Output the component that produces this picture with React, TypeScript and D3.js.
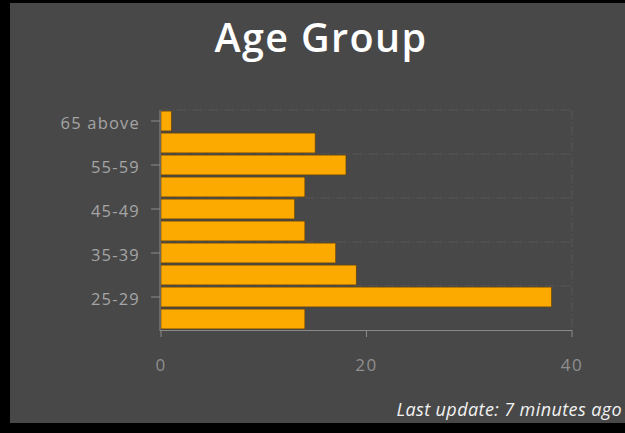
import React from "react";
import * as d3 from "d3";

const categories = ["20-24", "25-29", "30-34", "35-39", "40-44", "45-49", "50-54", "55-59", "60-64", "65 above"];
const values = [14, 38, 19, 17, 14, 13, 14, 18, 15, 1];
const labeled = ["25-29", "35-39", "45-49", "55-59", "65 above"];
const xTicks = [0, 20, 40];
const title = "Age Group";
const footer = "Last update: 7 minutes ago";

export default function App() {
  const W = 625, H = 433;
  const x = d3.scaleLinear().domain([0, 40]).range([161, 572]);
  const y = d3.scaleBand().domain(categories.slice().reverse()).range([110, 330]).paddingInner(0.1).paddingOuter(0.05);
  const step = y.step();
  const bandTop = (c: string) => (y(c) as number) - y.paddingInner() * step / 2;
  const font = "'Open Sans', Lato, sans-serif";
  return (
    <div style={{ position: "fixed", left: 0, top: 0 }}>
      <svg width={W} height={H} style={{ display: "block" }}>
        <rect x={0} y={0} width={W} height={H} fill="#000" />
        <rect x={10} y={3} width={W - 10} height={420} fill="#484848" />
        <text x={321} y={52} textAnchor="middle" fill="#fff" fontFamily={font} fontWeight={600} fontSize={39.5} letterSpacing={1.4}>{title}</text>
        {labeled.map((c) => (
          <line key={"g" + c} x1={x(0)} x2={x(40)} y1={bandTop(c)} y2={bandTop(c)} stroke="#575757" strokeWidth={1} strokeDasharray="9,3,1,3" />
        ))}
        <line x1={x(40)} x2={x(40)} y1={110} y2={330} stroke="#575757" strokeDasharray="9,3,1,3" />
        {categories.map((c, i) => (
          <rect key={c} x={x(0)} y={y(c)} width={x(values[i]) - x(0)} height={y.bandwidth()} fill="#FDAA00" stroke="#6a4200" strokeWidth={0.6} />
        ))}
        <line x1={160} x2={160} y1={110} y2={331} stroke="#8a8a8a" />
        <line x1={160} x2={x(40)} y1={330.5} y2={330.5} stroke="#8a8a8a" />
        {labeled.map((c) => {
          const cy = (y(c) as number) + y.bandwidth() / 2;
          return (
            <g key={"l" + c}>
              <line x1={151} x2={160} y1={cy} y2={cy} stroke="#8a8a8a" />
              <text x={140} y={cy + 2} dy="0.35em" textAnchor="end" fill="#a5a5a5" fontFamily={font} fontSize={16.5} letterSpacing={1.2}>{c}</text>
            </g>
          );
        })}
        {xTicks.map((t) => (
          <g key={"x" + t}>
            <line x1={x(t)} x2={x(t)} y1={330} y2={337} stroke="#8a8a8a" />
            <text x={x(t)} y={365} dy="0.35em" textAnchor="middle" fill="#8f8f8f" fontFamily={font} fontSize={17} letterSpacing={1.5}>{t}</text>
          </g>
        ))}
        <text x={622} y={416} textAnchor="end" fill="#f2f2f2" fontFamily={font} fontStyle="italic" fontSize={18} letterSpacing={0.4}>{footer}</text>
      </svg>
    </div>
  );
}
